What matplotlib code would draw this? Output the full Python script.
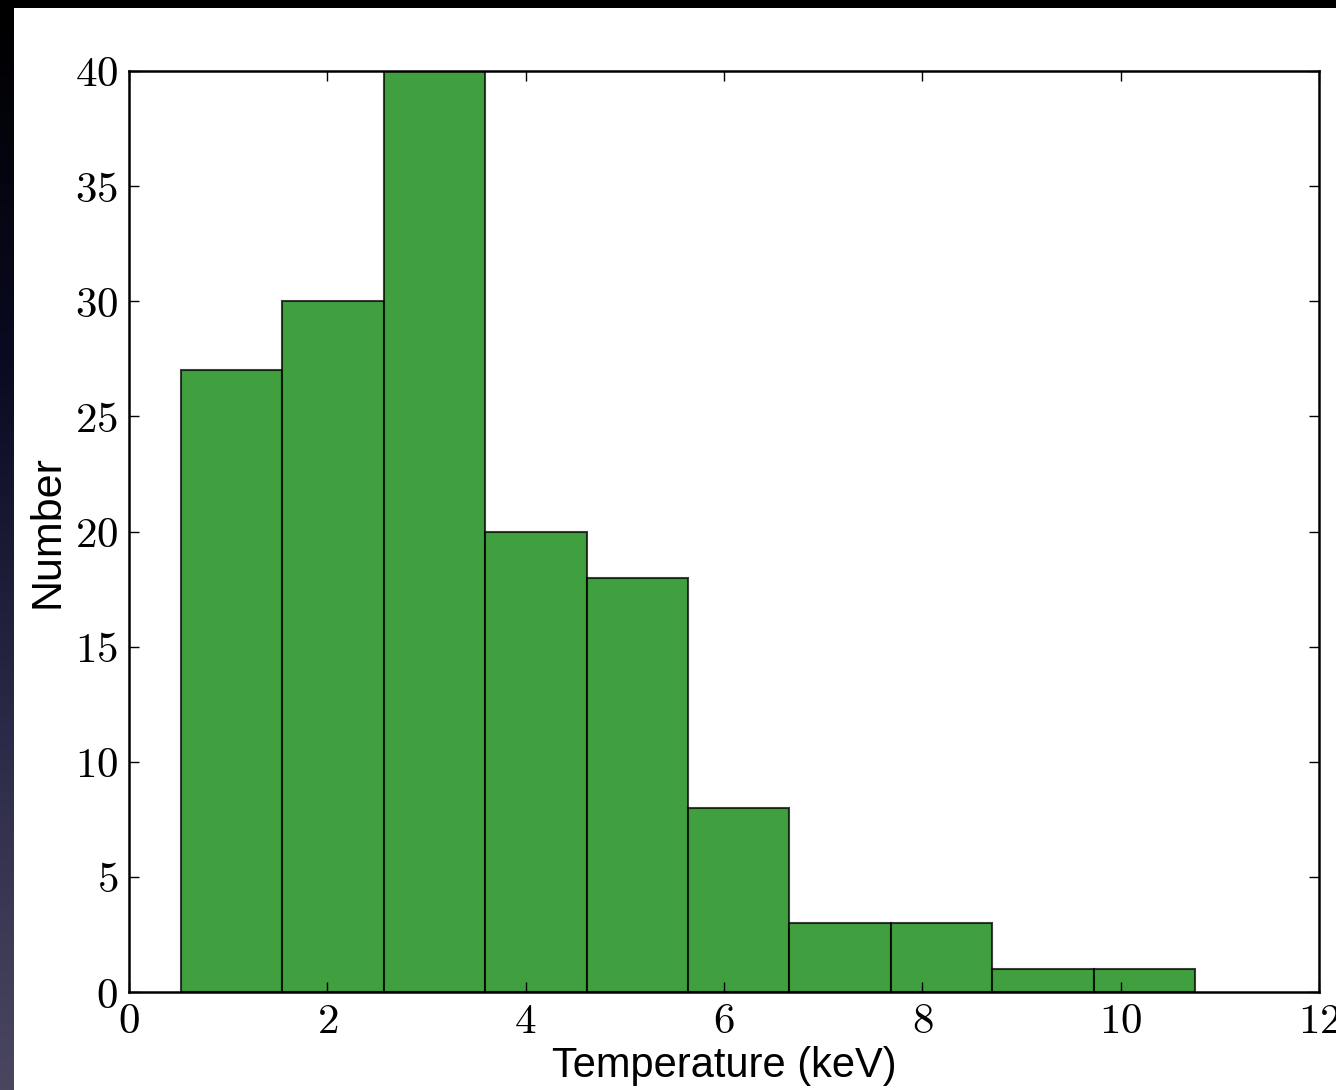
import numpy as np
import matplotlib
matplotlib.use('Agg')
import matplotlib.pyplot as plt
from matplotlib.patches import Rectangle
from matplotlib.ticker import FuncFormatter

# Histograma de temperaturas (keV)
bordes = [0.524, 1.547, 2.570, 3.592, 4.615, 5.638, 6.660, 7.683, 8.705, 9.728, 10.750]
cuentas = [27, 30, 40, 20, 18, 8, 3, 3, 1, 1]
xticks = [0, 2, 4, 6, 8, 10, 12]
yticks = [0, 5, 10, 15, 20, 25, 30, 35, 40]

plt.rcParams['mathtext.fontset'] = 'cm'
plt.rcParams['font.family'] = ['Liberation Sans', 'DejaVu Sans']

fig = plt.figure(figsize=(13.36, 10.9), dpi=100)

# fondo oscuro (captura de una diapositiva)
bg = fig.add_axes([0, 0, 1, 1])
grad = np.linspace(0, 1, 256).reshape(-1, 1)
cmap = matplotlib.colors.LinearSegmentedColormap.from_list(
    'fondo', ['#000000', '#0a0a22', '#2a2a48', '#4a4660'])
bg.imshow(grad, aspect='auto', cmap=cmap, extent=[0, 1, 0, 1], origin='upper')
bg.set_xlim(0, 1)
bg.set_ylim(0, 1)
bg.axis('off')
fig.patches.append(Rectangle((14/1336, 0), 1, 1 - 8/1090, transform=fig.transFigure,
                             facecolor='white', edgecolor='none', zorder=0.5))
bg.set_zorder(0)

ax = fig.add_axes([129/1336, 1 - 992/1090, 1190/1336, 921/1090])
ax.set_zorder(2)
ax.hist(bordes[:-1], bins=bordes, weights=cuentas, color='g', alpha=0.75,
        edgecolor='k', linewidth=1.5)

ax.set_xlim(0, 12)
ax.set_ylim(0, 40)
ax.set_xticks(xticks)
ax.set_yticks(yticks)
fmt = FuncFormatter(lambda v, p: r'$%d$' % v)
ax.xaxis.set_major_formatter(fmt)
ax.yaxis.set_major_formatter(fmt)
ax.tick_params(direction='in', top=True, right=True, length=7.5, width=1.0,
               labelsize=31)
ax.tick_params(axis='y', pad=8)
ax.tick_params(axis='x', pad=7)
for s in ax.spines.values():
    s.set_linewidth(1.8)

ax.set_xlabel('Temperature (keV)', fontsize=30, labelpad=3)
ax.set_ylabel('Number', fontsize=31, labelpad=5)

plt.savefig('out.png', dpi=100)
